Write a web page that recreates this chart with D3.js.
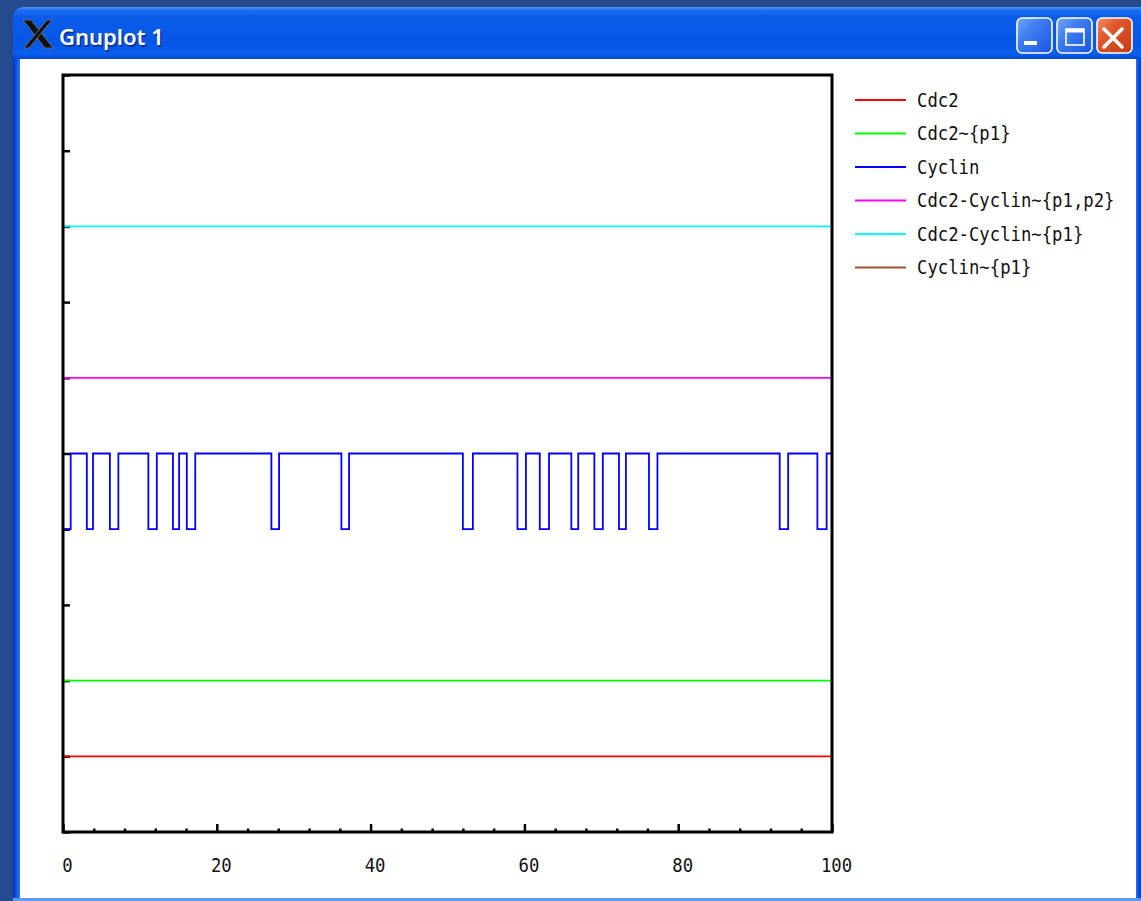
<!DOCTYPE html>
<html><head><meta charset="utf-8">
<script src="https://cdn.jsdelivr.net/npm/d3@7"></script>
<style>html,body{margin:0;padding:0;background:#264a8e;overflow:hidden}</style>
</head><body><svg id="c" width="1141" height="901"></svg>
<script>
// Species shown in the trajectory plot
const seriesNames = ["Cdc2", "Cdc2~{p1}", "Cyclin", "Cdc2-Cyclin~{p1,p2}", "Cdc2-Cyclin~{p1}", "Cyclin~{p1}"];
const seriesColors = ["#ff0000", "#00ff00", "#0000ff", "#ff00ff", "#00ffff", "#a0522d"];

// Constant species counts over the run
const timeSpan = [0, 100];
const cdc2Counts = [1, 1];
const cdc2P1Counts = [2, 2];
const cdc2CyclinP1P2Counts = [6, 6];
const cdc2CyclinP1Counts = [8, 8];
const cyclinP1Counts = [0, 0];

// Cyclin fluctuates between 4 and 5 (step changes)
const cyclinTimes = [0, 1.0, 3.1, 3.9, 6.1, 7.2, 11.1, 12.2, 14.3, 15.1, 16.1, 17.2, 27.1, 28.1, 36.2, 37.2,
  52.0, 53.3, 59.1, 60.2, 62.0, 63.2, 66.1, 67.0, 69.1, 70.2, 72.3, 73.2, 76.2, 77.3, 93.2, 94.3, 98.1, 99.3, 100];
const cyclinCounts = [4, 5, 4, 5, 4, 5, 4, 5, 4, 5, 4, 5, 4, 5, 4, 5,
  4, 5, 4, 5, 4, 5, 4, 5, 4, 5, 4, 5, 4, 5, 4, 5, 4, 5, 5];

// Axis ticks
const xMajorTicks = [0, 20, 40, 60, 80, 100];
const xMinorTicks = [4, 8, 12, 16, 24, 28, 32, 36, 44, 48, 52, 56, 64, 68, 72, 76, 84, 88, 92, 96];
const yTicks = [0, 1, 2, 3, 4, 5, 6, 7, 8, 9, 10];

const windowTitle = "Gnuplot 1";

const svg = d3.select("#c");
const defs = svg.append("defs");

// ---------- window frame ----------
svg.append("rect").attr("width", 1141).attr("height", 901).attr("fill", "#264a8e");

const tg = defs.append("linearGradient").attr("id", "titleGrad").attr("x1", 0).attr("y1", 0).attr("x2", 0).attr("y2", 1);
[[0, "#4f95f7"], [0.06, "#1f6ef2"], [0.18, "#0a5ce8"], [0.7, "#0656e6"], [0.9, "#0a5fee"], [1, "#0347cf"]]
  .forEach(([o, c]) => tg.append("stop").attr("offset", o).attr("stop-color", c));

// frame body (rounded top corners)
svg.append("path")
  .attr("d", "M13,901 L13,19 Q13,7 25,7 L1141,7 L1141,901 Z")
  .attr("fill", "#0a4fd8");
svg.append("path")
  .attr("d", "M13,59 L13,19 Q13,7 25,7 L1141,7 L1141,59 Z")
  .attr("fill", "url(#titleGrad)");

// side borders
const lg = defs.append("linearGradient").attr("id", "leftGrad").attr("x1", 0).attr("x2", 1).attr("y1", 0).attr("y2", 0);
[[0, "#0833b8"], [0.4, "#0b4fe0"], [1, "#2a78f6"]].forEach(([o, c]) => lg.append("stop").attr("offset", o).attr("stop-color", c));
svg.append("rect").attr("x", 13).attr("y", 59).attr("width", 7).attr("height", 842).attr("fill", "url(#leftGrad)");
const rg = defs.append("linearGradient").attr("id", "rightGrad").attr("x1", 0).attr("x2", 1).attr("y1", 0).attr("y2", 0);
[[0, "#2a74f2"], [0.5, "#0a4fdc"], [1, "#0838bd"]].forEach(([o, c]) => rg.append("stop").attr("offset", o).attr("stop-color", c));
svg.append("rect").attr("x", 1136).attr("y", 59).attr("width", 5).attr("height", 842).attr("fill", "url(#rightGrad)");
svg.append("rect").attr("x", 13).attr("y", 898).attr("width", 1128).attr("height", 3).attr("fill", "#5b9bf6");

// client area
svg.append("rect").attr("x", 20).attr("y", 59).attr("width", 1116).attr("height", 839).attr("fill", "#ffffff");

// X11 icon
const icon = svg.append("g");
icon.append("polygon").attr("points", "23,20 31,20 53,48 45,48").attr("fill", "#111").attr("stroke", "#777").attr("stroke-width", 0.8);
icon.append("polygon").attr("points", "47,20 52,20 29,48 24,48").attr("fill", "#111").attr("stroke", "#777").attr("stroke-width", 0.8);

// title text with shadow
const titleFont = "'Noto Sans', 'DejaVu Sans', sans-serif";
svg.append("text").attr("x", 60.5).attr("y", 46.5).text(windowTitle)
  .attr("font-family", titleFont).attr("font-weight", 600)
  .attr("font-size", 22).attr("fill", "#0a1d6b").attr("opacity", 0.6);
svg.append("text").attr("x", 59).attr("y", 45).text(windowTitle)
  .attr("font-family", titleFont).attr("font-weight", 600)
  .attr("font-size", 22).attr("fill", "#ffffff");

// caption buttons
const bg = defs.append("linearGradient").attr("id", "btnBlue").attr("x1", 0).attr("y1", 0).attr("x2", 1).attr("y2", 1);
[[0, "#7aa8fb"], [0.35, "#3f7ff2"], [1, "#1a55de"]].forEach(([o, c]) => bg.append("stop").attr("offset", o).attr("stop-color", c));
const br = defs.append("linearGradient").attr("id", "btnRed").attr("x1", 0).attr("y1", 0).attr("x2", 1).attr("y2", 1);
[[0, "#f0906c"], [0.35, "#e2582e"], [1, "#c23a14"]].forEach(([o, c]) => br.append("stop").attr("offset", o).attr("stop-color", c));

[[1017, "url(#btnBlue)"], [1057, "url(#btnBlue)"], [1097, "url(#btnRed)"]].forEach(([bx, f]) => {
  svg.append("rect").attr("x", bx).attr("y", 18).attr("width", 35).attr("height", 35).attr("rx", 5)
    .attr("fill", f).attr("stroke", "#ffffff").attr("stroke-width", 1.6);
});
svg.append("rect").attr("x", 1024).attr("y", 41).attr("width", 13).attr("height", 4).attr("fill", "#fff");
svg.append("rect").attr("x", 1066).attr("y", 29).attr("width", 18).attr("height", 16).attr("fill", "none").attr("stroke", "#fff").attr("stroke-width", 1.6);
svg.append("rect").attr("x", 1066).attr("y", 29).attr("width", 18).attr("height", 3.5).attr("fill", "#fff");
svg.append("path").attr("d", "M1104,29 L1122,47 M1122,29 L1104,47").attr("stroke", "#fff").attr("stroke-width", 3.6).attr("stroke-linecap", "round");

// ---------- plot ----------
const x = d3.scaleLinear().domain([0, 100]).range([63, 832]);
const y = d3.scaleLinear().domain([0, 10]).range([832, 75]);

defs.append("clipPath").attr("id", "plotClip").append("rect")
  .attr("x", 63).attr("y", 75).attr("width", 769).attr("height", 757);

const monoFont = "'DejaVu Sans Mono', 'Liberation Mono', monospace";
const monoSize = 20;
const squeeze = 10.4 / (0.602 * monoSize); // narrow the mono glyphs horizontally

// y ticks (inward, no labels)
const yAxis = svg.append("g").attr("transform", "translate(63,0)")
  .call(d3.axisLeft(y).tickValues(yTicks).tickSize(-7).tickFormat(""));
yAxis.select(".domain").remove();
yAxis.selectAll("line").attr("stroke", "#000").attr("stroke-width", 2.5);

// x minor ticks
const xMinor = svg.append("g").attr("transform", "translate(0,832)")
  .call(d3.axisBottom(x).tickValues(xMinorTicks).tickSize(-3.5).tickFormat(""));
xMinor.select(".domain").remove();
xMinor.selectAll("line").attr("stroke", "#000").attr("stroke-width", 2.5);

// x major ticks
const xMajor = svg.append("g").attr("transform", "translate(0,832)")
  .call(d3.axisBottom(x).tickValues(xMajorTicks).tickSize(-8).tickFormat(""));
xMajor.select(".domain").remove();
xMajor.selectAll("line").attr("stroke", "#000").attr("stroke-width", 2.5);

// x tick labels, squeezed monospace
svg.append("g").selectAll("text").data(xMajorTicks).join("text")
  .attr("transform", d => `translate(${x(d) + 4.5},872) scale(${squeeze},1)`)
  .attr("text-anchor", "middle")
  .attr("font-family", monoFont).attr("font-size", monoSize).attr("fill", "#111")
  .text(d3.format("d"));

// data lines
const line = d3.line().x(d => x(d[0])).y(d => y(d[1])).curve(d3.curveStepAfter);
const zipSeries = (t, v) => t.map((ti, i) => [ti, v[i]]);
const seriesData = [
  zipSeries(timeSpan, cdc2Counts),
  zipSeries(timeSpan, cdc2P1Counts),
  zipSeries(cyclinTimes, cyclinCounts),
  zipSeries(timeSpan, cdc2CyclinP1P2Counts),
  zipSeries(timeSpan, cdc2CyclinP1Counts),
  zipSeries(timeSpan, cyclinP1Counts)
];

const plot = svg.append("g").attr("clip-path", "url(#plotClip)");
seriesData.forEach((d, i) => {
  plot.append("path").datum(d).attr("d", line)
    .attr("fill", "none").attr("stroke", seriesColors[i]).attr("stroke-width", 1.8);
});

// plot border
svg.append("rect").attr("x", 63).attr("y", 75).attr("width", 769).attr("height", 757)
  .attr("fill", "none").attr("stroke", "#000").attr("stroke-width", 3);

// legend
const legend = svg.append("g");
seriesNames.forEach((name, i) => {
  const ly = 100 + i * 33.5;
  legend.append("line").attr("x1", 855).attr("x2", 906).attr("y1", ly).attr("y2", ly)
    .attr("stroke", seriesColors[i]).attr("stroke-width", 1.8);
  legend.append("text")
    .attr("transform", `translate(917,${ly + 6.5}) scale(${squeeze},1)`)
    .text(name)
    .attr("font-family", monoFont).attr("font-size", monoSize).attr("fill", "#111");
});
</script>
</body></html>
